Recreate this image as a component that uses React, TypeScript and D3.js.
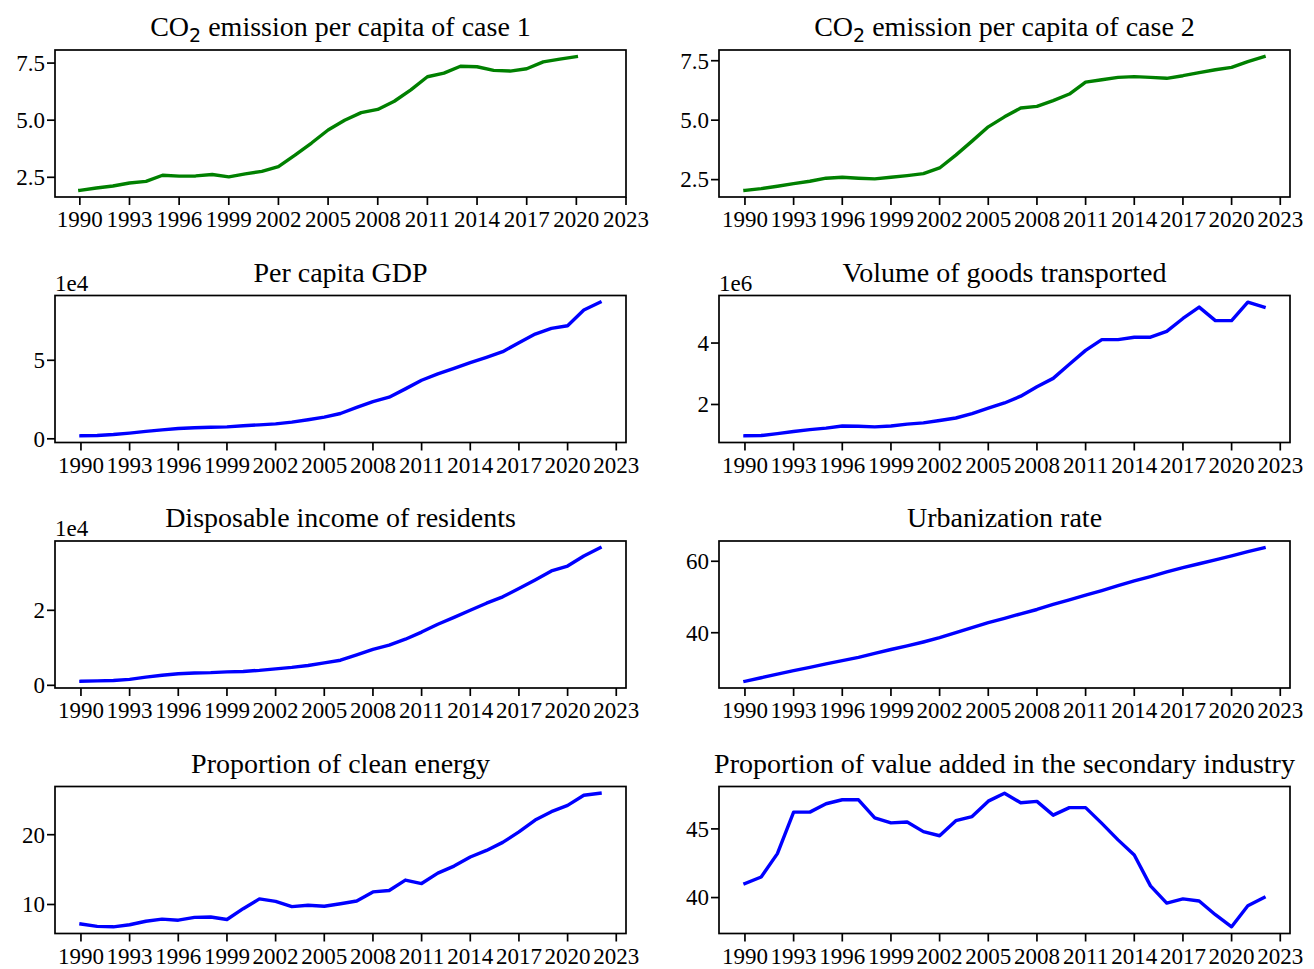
import React from "react";
import * as d3 from "d3";

const YEARS_TO_2020 = [1990, 1991, 1992, 1993, 1994, 1995, 1996, 1997, 1998, 1999, 2000, 2001, 2002, 2003, 2004, 2005, 2006, 2007, 2008, 2009, 2010, 2011, 2012, 2013, 2014, 2015, 2016, 2017, 2018, 2019, 2020];
const YEARS = [1990, 1991, 1992, 1993, 1994, 1995, 1996, 1997, 1998, 1999, 2000, 2001, 2002, 2003, 2004, 2005, 2006, 2007, 2008, 2009, 2010, 2011, 2012, 2013, 2014, 2015, 2016, 2017, 2018, 2019, 2020, 2021, 2022];
const X_TICKS = [1990, 1993, 1996, 1999, 2002, 2005, 2008, 2011, 2014, 2017, 2020, 2023];

const co2Case1 = [1.93, 2.03, 2.12, 2.25, 2.32, 2.59, 2.55, 2.56, 2.62, 2.52, 2.65, 2.76, 2.97, 3.47, 4.0, 4.57, 5.0, 5.33, 5.47, 5.83, 6.33, 6.9, 7.06, 7.36, 7.34, 7.18, 7.15, 7.25, 7.55, 7.67, 7.78];
const co2Case2 = [2.05, 2.12, 2.22, 2.33, 2.43, 2.56, 2.6, 2.56, 2.53, 2.6, 2.67, 2.75, 2.99, 3.53, 4.12, 4.72, 5.14, 5.51, 5.58, 5.82, 6.1, 6.6, 6.7, 6.8, 6.83, 6.8, 6.76, 6.87, 7.0, 7.12, 7.22, 7.46, 7.67];
const gdpPerCapita = [1900, 2100, 2700, 3600, 4700, 5700, 6600, 7000, 7400, 7600, 8300, 8900, 9500, 10600, 12100, 13800, 16100, 20000, 23700, 26500, 31800, 37300, 41300, 44900, 48500, 51900, 55500, 61200, 66700, 70300, 72000, 82000, 87000];
const goodsTransported = [980000, 990000, 1050000, 1120000, 1180000, 1230000, 1300000, 1290000, 1270000, 1300000, 1360000, 1400000, 1480000, 1560000, 1700000, 1880000, 2050000, 2270000, 2580000, 2850000, 3310000, 3760000, 4110000, 4110000, 4190000, 4190000, 4380000, 4800000, 5170000, 4730000, 4730000, 5330000, 5170000];
const disposableIncome = [1070, 1200, 1300, 1600, 2200, 2700, 3100, 3300, 3400, 3600, 3700, 4000, 4400, 4800, 5300, 6000, 6700, 8100, 9600, 10700, 12300, 14200, 16300, 18100, 20000, 21900, 23600, 25800, 28100, 30500, 31800, 34500, 36700];
const urbanizationRate = [26.4, 27.4, 28.4, 29.4, 30.3, 31.3, 32.2, 33.1, 34.2, 35.3, 36.3, 37.4, 38.6, 40.0, 41.4, 42.8, 44.0, 45.3, 46.5, 47.9, 49.2, 50.5, 51.8, 53.2, 54.5, 55.7, 57.0, 58.2, 59.3, 60.4, 61.5, 62.7, 63.8];
const cleanEnergy = [7.2, 6.86, 6.8, 7.1, 7.6, 7.9, 7.75, 8.15, 8.2, 7.85, 9.4, 10.8, 10.45, 9.7, 9.9, 9.75, 10.1, 10.5, 11.8, 12.0, 13.5, 13.0, 14.5, 15.5, 16.8, 17.75, 18.9, 20.4, 22.1, 23.3, 24.2, 25.65, 25.95];
const secondaryIndustry = [41.02, 41.5, 43.2, 46.22, 46.22, 46.83, 47.12, 47.12, 45.8, 45.44, 45.5, 44.8, 44.5, 45.6, 45.9, 47.02, 47.6, 46.9, 47.0, 46.0, 46.55, 46.55, 45.4, 44.2, 43.1, 40.85, 39.6, 39.9, 39.75, 38.75, 37.87, 39.4, 40.0];

const TICKS_CO2 = [2.5, 5.0, 7.5];
const TICKS_GDP = [0, 50000];
const TICKS_GOODS = [2000000, 4000000];
const TICKS_INCOME = [0, 20000];
const TICKS_URBAN = [40, 60];
const TICKS_CLEAN = [10, 20];
const TICKS_SECOND = [40, 45];

const SERIF = "'Liberation Serif', 'Times New Roman', serif";
const COL_X = [55, 719];
const ROW_Y = [50, 295.5, 541, 786.5];
const W = 571;
const H = 147;

type PanelProps = {
  title: React.ReactNode;
  years: number[];
  values: number[];
  color: string;
  ticks: number[];
  fmt: (v: number) => string;
  offset?: string;
  left: number;
  top: number;
};

function Panel({ title, years, values, color, ticks, fmt, offset, left, top }: PanelProps) {
  const xmin = d3.min(years)!;
  const xmax = d3.max(years)!;
  const xm = (xmax - xmin) * 0.05;
  const x = d3
    .scaleLinear()
    .domain([Math.min(xmin - xm, X_TICKS[0]), Math.max(xmax + xm, X_TICKS[X_TICKS.length - 1])])
    .range([left, left + W]);
  const ymin = d3.min(values)!;
  const ymax = d3.max(values)!;
  const ym = (ymax - ymin) * 0.05;
  const y = d3.scaleLinear().domain([ymin - ym, ymax + ym]).range([top + H, top]);
  const line = d3
    .line<number>()
    .x((_, i) => x(years[i]))
    .y((d) => y(d));
  const bottom = top + H;
  return (
    <g>
      <path d={line(values) || ""} fill="none" stroke={color} strokeWidth={3.4} strokeLinejoin="round" strokeLinecap="square" />
      <rect x={left} y={top} width={W} height={H} fill="none" stroke="#000" strokeWidth={1.7} />
      {X_TICKS.map((t) => (
        <g key={t}>
          <line x1={x(t)} x2={x(t)} y1={bottom} y2={bottom + 8} stroke="#000" strokeWidth={1.7} />
          <text x={x(t)} y={bottom + 30} textAnchor="middle" fontFamily={SERIF} fontSize={23} fill="#000">
            {t}
          </text>
        </g>
      ))}
      {ticks.map((t) => (
        <g key={t}>
          <line x1={left - 8} x2={left} y1={y(t)} y2={y(t)} stroke="#000" strokeWidth={1.7} />
          <text x={left - 10} y={y(t)} dy="0.34em" textAnchor="end" fontFamily={SERIF} fontSize={23} fill="#000">
            {fmt(t)}
          </text>
        </g>
      ))}
      {offset && (
        <text x={left} y={top - 5} fontFamily={SERIF} fontSize={23} fill="#000">
          {offset}
        </text>
      )}
      <text x={left + W / 2} y={top - 14} textAnchor="middle" fontFamily={SERIF} fontSize={28} fill="#000">
        {title}
      </text>
    </g>
  );
}

function co2Title(n: number) {
  return (
    <>
      CO
      <tspan fontFamily="'DejaVu Sans', sans-serif" fontSize={19} dy={6}>
        2
      </tspan>
      <tspan dy={-6}>{` emission per capita of case ${n}`}</tspan>
    </>
  );
}

export default function App() {
  const f1 = (v: number) => v.toFixed(1);
  const e4 = (v: number) => String(v / 1e4);
  const e6 = (v: number) => String(v / 1e6);
  const f0 = (v: number) => String(v);
  return (
    <div style={{ position: "absolute", left: 0, top: 0 }}>
      <svg width={1314} height={969} style={{ display: "block", background: "#fff" }}>
        <Panel title={co2Title(1)} years={YEARS_TO_2020} values={co2Case1} color="#008000" ticks={TICKS_CO2} fmt={f1} left={COL_X[0]} top={ROW_Y[0]} />
        <Panel title={co2Title(2)} years={YEARS} values={co2Case2} color="#008000" ticks={TICKS_CO2} fmt={f1} left={COL_X[1]} top={ROW_Y[0]} />
        <Panel title="Per capita GDP" years={YEARS} values={gdpPerCapita} color="#0000ff" ticks={TICKS_GDP} fmt={e4} offset="1e4" left={COL_X[0]} top={ROW_Y[1]} />
        <Panel title="Volume of goods transported" years={YEARS} values={goodsTransported} color="#0000ff" ticks={TICKS_GOODS} fmt={e6} offset="1e6" left={COL_X[1]} top={ROW_Y[1]} />
        <Panel title="Disposable income of residents" years={YEARS} values={disposableIncome} color="#0000ff" ticks={TICKS_INCOME} fmt={e4} offset="1e4" left={COL_X[0]} top={ROW_Y[2]} />
        <Panel title="Urbanization rate" years={YEARS} values={urbanizationRate} color="#0000ff" ticks={TICKS_URBAN} fmt={f0} left={COL_X[1]} top={ROW_Y[2]} />
        <Panel title="Proportion of clean energy" years={YEARS} values={cleanEnergy} color="#0000ff" ticks={TICKS_CLEAN} fmt={f0} left={COL_X[0]} top={ROW_Y[3]} />
        <Panel title="Proportion of value added in the secondary industry" years={YEARS} values={secondaryIndustry} color="#0000ff" ticks={TICKS_SECOND} fmt={f0} left={COL_X[1]} top={ROW_Y[3]} />
      </svg>
    </div>
  );
}
